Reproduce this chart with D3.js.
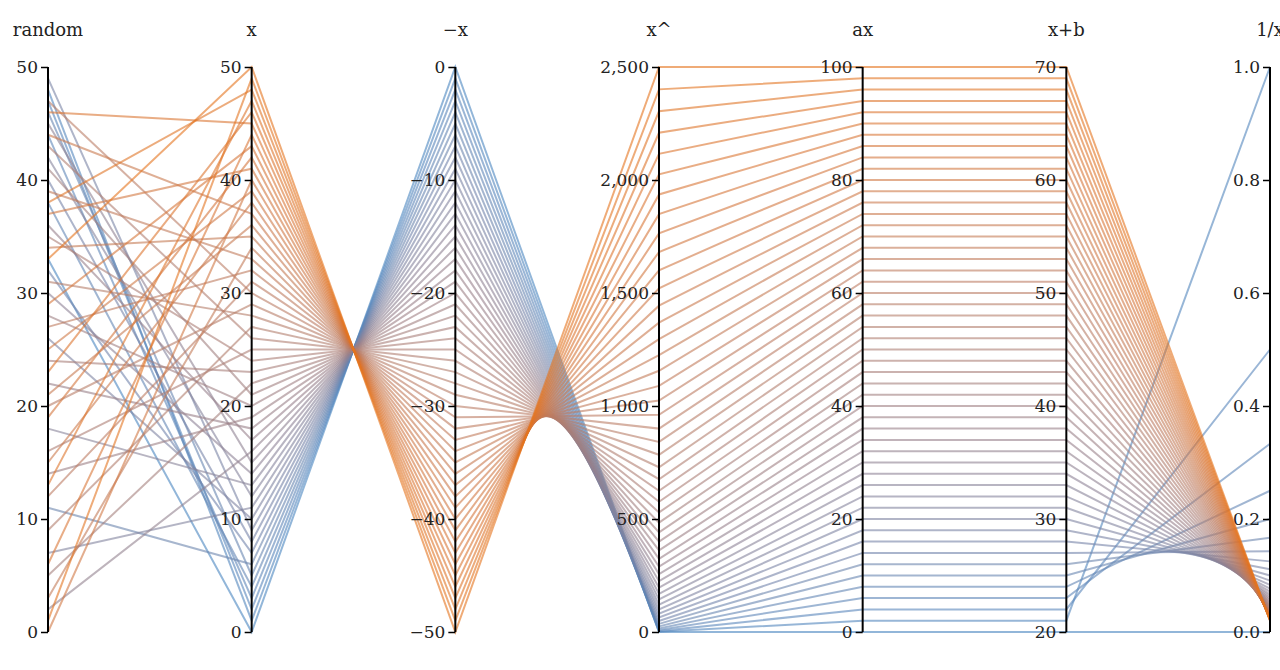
<!DOCTYPE html>
<html><head><meta charset="utf-8">
<script src="https://cdn.jsdelivr.net/npm/d3@7"></script>
<style>
body{margin:0;background:#fff;}
text{font-family:"DejaVu Serif",serif;}
</style></head>
<body><svg id="chart" width="1280" height="670"></svg>
<script>
// ==================== DATA ====================
const dimensions = ["random","x","\u2212x","x^","ax","x+b","1/x"];
const randomVals = [33,48,47,44,38,46,11,32,40,49,26,7,42,18,30,45,2,36,22,14,28,41,5,24,35,16,43,9,31,20,47,12,27,39,3,34,21,44,15,25,0,37,19,29,6,46,23,13,38,1,33];
const xVals = [0,1,2,3,4,5,6,7,8,9,10,11,12,13,14,15,16,17,18,19,20,21,22,23,24,25,26,27,28,29,30,31,32,33,34,35,36,37,38,39,40,41,42,43,44,45,46,47,48,49,50];
const negXVals = [0,-1,-2,-3,-4,-5,-6,-7,-8,-9,-10,-11,-12,-13,-14,-15,-16,-17,-18,-19,-20,-21,-22,-23,-24,-25,-26,-27,-28,-29,-30,-31,-32,-33,-34,-35,-36,-37,-38,-39,-40,-41,-42,-43,-44,-45,-46,-47,-48,-49,-50];
const sqVals = [0,1,4,9,16,25,36,49,64,81,100,121,144,169,196,225,256,289,324,361,400,441,484,529,576,625,676,729,784,841,900,961,1024,1089,1156,1225,1296,1369,1444,1521,1600,1681,1764,1849,1936,2025,2116,2209,2304,2401,2500];
const axVals = [0,2,4,6,8,10,12,14,16,18,20,22,24,26,28,30,32,34,36,38,40,42,44,46,48,50,52,54,56,58,60,62,64,66,68,70,72,74,76,78,80,82,84,86,88,90,92,94,96,98,100];
const xbVals = [20,21,22,23,24,25,26,27,28,29,30,31,32,33,34,35,36,37,38,39,40,41,42,43,44,45,46,47,48,49,50,51,52,53,54,55,56,57,58,59,60,61,62,63,64,65,66,67,68,69,70];
const invVals = [0,1,0.5,0.3333,0.25,0.2,0.1667,0.1429,0.125,0.1111,0.1,0.0909,0.0833,0.0769,0.0714,0.0667,0.0625,0.0588,0.0556,0.0526,0.05,0.0476,0.0455,0.0435,0.0417,0.04,0.0385,0.037,0.0357,0.0345,0.0333,0.0323,0.0313,0.0303,0.0294,0.0286,0.0278,0.027,0.0263,0.0256,0.025,0.0244,0.0238,0.0233,0.0227,0.0222,0.0217,0.0213,0.0208,0.0204,0.02];
const domains = [[0,50],[0,50],[-50,0],[0,2500],[0,100],[20,70],[0,1]];
const tickVals = [
  [0,10,20,30,40,50],[0,10,20,30,40,50],[-50,-40,-30,-20,-10,0],
  [0,500,1000,1500,2000,2500],[0,20,40,60,80,100],[20,30,40,50,60,70],[0,0.2,0.4,0.6,0.8,1.0]
];
const tickFormats = [d3.format("d"),d3.format("d"),d=>d3.format("d")(d).replace("-","\u2212"),d3.format(","),d3.format("d"),d3.format("d"),d3.format(".1f")];

// ==================== DRAW ====================
const columns = [randomVals,xVals,negXVals,sqVals,axVals,xbVals,invVals];
const rows = xVals.map((x,i)=>columns.map(c=>c[i]));
const svg = d3.select("#chart");
const yTop = 67, yBottom = 632;
const xPos = d3.scalePoint().domain(d3.range(dimensions.length)).range([48,1270]);
const yScales = domains.map(d=>d3.scaleLinear().domain(d).range([yBottom,yTop]));
const color = d3.scaleLinear().domain([0,50]).range(["#4a86c0","#e4731c"]).interpolate(d3.interpolateLab);

const line = d3.line().x((d,i)=>xPos(i)).y((d,i)=>yScales[i](d));
svg.append("g").selectAll("path").data(rows).join("path")
  .attr("d",line).attr("fill","none")
  .attr("stroke",d=>color(d[1])).attr("stroke-width",2).attr("stroke-opacity",0.6);

dimensions.forEach((name,i)=>{
  const g = svg.append("g").attr("transform",`translate(${xPos(i)},0)`);
  g.call(d3.axisLeft(yScales[i]).tickValues(tickVals[i]).tickFormat(tickFormats[i]).tickSize(7).tickPadding(3));
  g.select(".domain").attr("stroke","#000").attr("stroke-width",2).attr("d",`M0,${yTop}V${yBottom}`);
  g.selectAll(".tick line").attr("stroke-width",1.5);
  g.selectAll(".tick text").style("font-size","17px").attr("fill","#222");
  g.append("text").attr("y",36).attr("text-anchor","middle").attr("fill","#222")
    .style("font-size","18px").text(name);
});
</script></body></html>
